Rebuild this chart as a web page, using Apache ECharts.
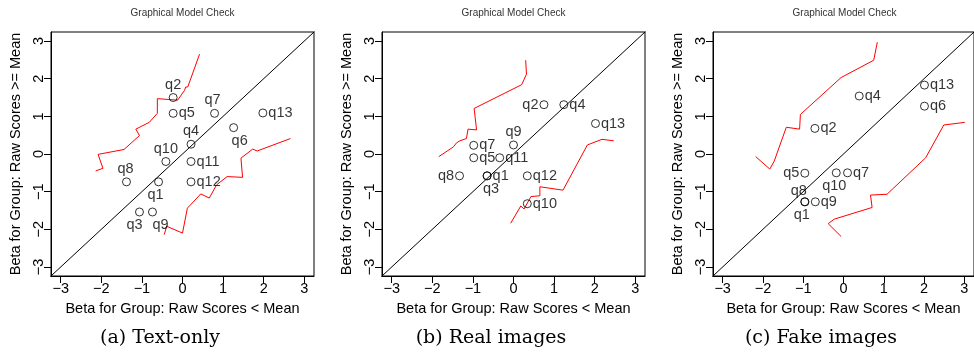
<!DOCTYPE html>
<html>
<head>
<meta charset="utf-8">
<script src="https://cdn.jsdelivr.net/npm/echarts@6/dist/echarts.min.js"></script>
<style>
html,body{margin:0;padding:0;background:#fff;}
#chart{width:974px;height:352px;}
</style>
</head>
<body>
<div id="chart"></div>
<script>
// ---- data ----
var tickValues = [-3, -2, -1, 0, 1, 2, 3];
var refLine = [-4, 4];
var chartTitle = 'Graphical Model Check';
var xTitle = 'Beta for Group: Raw Scores < Mean';
var yTitle = 'Beta for Group: Raw Scores >= Mean';
var captions = ['(a) Text-only', '(b) Real images', '(c) Fake images'];

// Panel (a) Text-only
var names1 = ['q1','q2','q3','q4','q5','q6','q7','q8','q9','q10','q11','q12','q13'];
var x1 = [-0.59, -0.23, -1.06, 0.21, -0.23, 1.26, 0.79, -1.38, -0.74, -0.41, 0.21, 0.21, 1.98];
var y1 = [-0.74, 1.50, -1.54, 0.26, 1.08, 0.70, 1.08, -0.74, -1.54, -0.20, -0.20, -0.74, 1.09];
var up1x = [-2.14, -1.96, -2.08, -1.44, -1.06, -1.15, -0.82, -0.62, -0.62, -0.12, 0.05, 0.08, 0.13, 0.42];
var up1y = [-0.45, -0.38, -0.01, 0.12, 0.49, 0.66, 0.84, 1.08, 1.47, 1.43, 1.69, 1.78, 1.78, 2.65];
var lo1x = [-0.45, -0.39, 0.00, 0.12, 0.45, 0.66, 0.84, 1.10, 1.48, 1.44, 1.73, 1.84, 2.66];
var lo1y = [-2.14, -1.92, -2.10, -1.44, -1.06, -1.17, -0.82, -0.60, -0.62, -0.11, 0.13, 0.08, 0.41];

// Panel (b) Real images
var names2 = ['q1','q2','q3','q4','q5','q7','q8','q9','q10','q11','q12','q13'];
var x2 = [-0.65, 0.75, -0.65, 1.24, -0.98, -0.98, -1.33, 0.00, 0.34, -0.34, 0.34, 2.02];
var y2 = [-0.58, 1.31, -0.58, 1.31, -0.10, 0.23, -0.58, 0.24, -1.32, -0.10, -0.58, 0.81];
var up2x = [-1.84, -1.48, -1.40, -1.44, -1.32, -1.16, -1.12, -0.91, -0.97, 0.20, 0.32, 0.30];
var up2y = [-0.07, 0.19, 0.30, 0.34, 0.35, 0.41, 0.66, 0.64, 1.21, 1.84, 2.12, 2.49];
var lo2x = [-0.07, 0.18, 0.26, 0.43, 0.65, 0.65, 1.22, 1.82, 2.18, 2.47];
var lo2y = [-1.84, -1.38, -1.46, -1.13, -1.11, -0.87, -0.96, 0.24, 0.39, 0.35];

// Panel (c) Fake images
var names3 = ['q1','q2','q4','q5','q6','q7','q8','q9','q10','q13'];
var x3 = [-0.96, -0.71, 0.39, -0.96, 2.01, 0.10, -0.96, -0.70, -0.18, 2.01];
var y3 = [-1.27, 0.68, 1.54, -0.51, 1.27, -0.50, -1.27, -1.27, -0.50, 1.83];
var up3x = [-2.18, -1.83, -1.72, -1.42, -1.09, -1.07, -0.06, 0.75, 0.84];
var up3y = [-0.07, -0.40, -0.19, 0.71, 0.66, 1.05, 2.03, 2.49, 2.97];
var lo3x = [-0.06, -0.38, -0.23, 0.71, 0.67, 1.08, 2.04, 2.49, 3.01];
var lo3y = [-2.19, -1.85, -1.73, -1.42, -1.09, -1.07, -0.10, 0.77, 0.84];

// ---- label placement (styling) ----
var lab1 = {q1:['bottom',[-3,0]], q2:['top',[0,0]], q3:['bottom',[-5,0]], q4:['top',[0,0]], q5:['right',[0,0]],
            q6:['bottom',[6,0]], q7:['top',[-2,0]], q8:['top',[-1,0]], q9:['bottom',[8,0]], q10:['top',[0,0]],
            q11:['right',[0,0]], q12:['right',[0,0]], q13:['right',[0,0]]};
var lab2 = {q1:['right',[0,0]], q2:['left',[0,0]], q3:['bottom',[4,0]], q4:['right',[0,0]], q5:['right',[0,0]],
            q7:['right',[0,0]], q8:['left',[0,0]], q9:['top',[0,0]], q10:['right',[0,0]], q11:['right',[0,0]],
            q12:['right',[0,0]], q13:['right',[0,0]]};
var lab3 = {q1:['bottom',[-3,0]], q2:['right',[0,0]], q4:['right',[0,0]], q5:['left',[0,0]], q6:['right',[0,0]],
            q7:['right',[0,0]], q8:['top',[-6,2]], q9:['right',[0,0]], q10:['bottom',[-2,0]], q13:['right',[0,0]]};

var FONT = "'Liberation Sans', Arial, Helvetica, sans-serif";
var gridLefts = [51, 382, 713];
var gridTop = 32, gridW = 263, gridH = 244;
var captionX = [160, 491, 821];

function pairs(xs, ys) { return xs.map(function (v, i) { return [v, ys[i]]; }); }
function fmt(v) { return v < 0 ? '\u2212' + Math.abs(v) : String(v); }

var panels = [
  {names: names1, x: x1, y: y1, up: pairs(up1x, up1y), lo: pairs(lo1x, lo1y), lab: lab1},
  {names: names2, x: x2, y: y2, up: pairs(up2x, up2y), lo: pairs(lo2x, lo2y), lab: lab2},
  {names: names3, x: x3, y: y3, up: pairs(up3x, up3y), lo: pairs(lo3x, lo3y), lab: lab3}
];

var grids = [], xAxes = [], yAxes = [], series = [], graphics = [];
panels.forEach(function (p, i) {
  grids.push({left: gridLefts[i], top: gridTop, width: gridW, height: gridH, show: true,
              borderColor: '#000', borderWidth: 1, backgroundColor: 'transparent'});
  xAxes.push({
    gridIndex: i, type: 'value', min: -3.24, max: 3.24,
    axisLine: {show: true, onZero: false, lineStyle: {color: '#000', width: 1}},
    axisTick: {show: true, length: 7, inside: false, customValues: tickValues, lineStyle: {color: '#000', width: 1}},
    axisLabel: {customValues: tickValues, margin: 5, fontSize: 14.5, color: '#000', fontFamily: FONT, formatter: fmt},
    splitLine: {show: false},
    name: xTitle, nameLocation: 'middle', nameGap: 25,
    nameTextStyle: {fontSize: 14.5, color: '#000', fontFamily: FONT}
  });
  yAxes.push({
    gridIndex: i, type: 'value', min: -3.24, max: 3.24,
    axisLine: {show: true, onZero: false, lineStyle: {color: '#000', width: 1}},
    axisTick: {show: true, length: 7, inside: false, customValues: tickValues, lineStyle: {color: '#000', width: 1}},
    axisLabel: {customValues: tickValues, rotate: 90, margin: 5, fontSize: 14.5, color: '#000', fontFamily: FONT, formatter: fmt},
    splitLine: {show: false},
    name: yTitle, nameLocation: 'middle', nameGap: 28, nameRotate: 90,
    nameTextStyle: {fontSize: 14.5, color: '#000', fontFamily: FONT}
  });
  series.push({
    type: 'line', xAxisIndex: i, yAxisIndex: i, data: refLine.map(function (v) { return [v, v]; }),
    showSymbol: false, symbol: 'none', clip: true, silent: true,
    lineStyle: {color: '#000', width: 1}, z: 1
  });
  series.push({
    type: 'line', xAxisIndex: i, yAxisIndex: i, data: p.up, showSymbol: false, symbol: 'none',
    clip: true, silent: true, lineStyle: {color: '#ff0000', width: 1}, z: 2
  });
  series.push({
    type: 'line', xAxisIndex: i, yAxisIndex: i, data: p.lo, showSymbol: false, symbol: 'none',
    clip: true, silent: true, lineStyle: {color: '#ff0000', width: 1}, z: 2
  });
  series.push({
    type: 'scatter', xAxisIndex: i, yAxisIndex: i, symbol: 'circle', symbolSize: 8,
    itemStyle: {color: 'rgba(0,0,0,0)', borderColor: '#000', borderWidth: 1},
    label: {show: true, formatter: '{b}', fontSize: 14.5, color: '#000', fontFamily: FONT, distance: 1},
    data: p.names.map(function (n, k) {
      var l = p.lab[n];
      return {name: n, value: [p.x[k], p.y[k]], label: {position: l[0], offset: l[1]}};
    }),
    z: 3
  });
  graphics.push({
    type: 'text', x: gridLefts[i] + gridW / 2, y: 13,
    style: {text: chartTitle, align: 'center', verticalAlign: 'middle', textAlign: 'center', textVerticalAlign: 'middle',
            fontSize: 10, fontFamily: FONT, fill: '#333'}
  });
  graphics.push({
    type: 'text', x: captionX[i], y: 338,
    style: {text: captions[i], align: 'center', verticalAlign: 'middle', textAlign: 'center', textVerticalAlign: 'middle',
            fontSize: 19, fontFamily: "'DejaVu Serif', 'Liberation Serif', serif", fill: '#000'}
  });
});

var chart = echarts.init(document.getElementById('chart'), null, {renderer: 'canvas'});
chart.setOption({
  animation: false,
  backgroundColor: '#fff',
  grid: grids, xAxis: xAxes, yAxis: yAxes, series: series, graphic: graphics
});
</script>
</body>
</html>
